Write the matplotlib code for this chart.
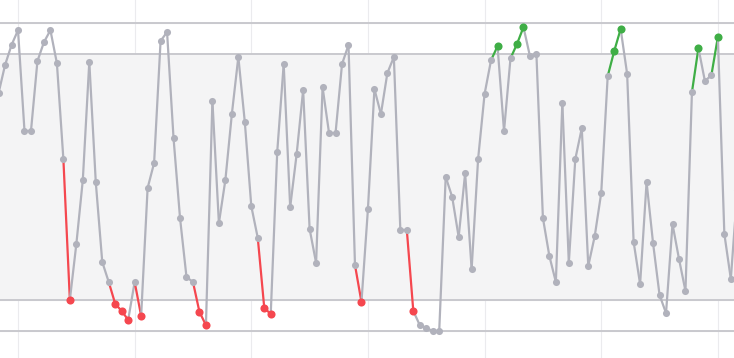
import numpy as np
import matplotlib
matplotlib.use("Agg")
import matplotlib.pyplot as plt

# readings, one per step (grid spacing = 1 unit)
values = [
    7.72, 8.63, 9.28, 9.76, 6.49, 6.49, 8.76, 9.37, 9.76, 8.69,
    5.58, 1.01, 2.82, 4.90, 8.73, 4.83, 2.24, 1.59, 0.88, 0.65,
    0.36, 1.59, 0.49, 4.64, 5.45, 9.41, 9.70, 6.26, 3.67, 1.75,
    1.59, 0.62, 0.19, 7.46, 3.50, 4.90, 7.04, 8.89, 6.78, 4.05,
    3.02, 0.75, 0.55, 5.81, 8.66, 4.02, 5.74, 7.82, 3.31, 2.21,
    7.91, 6.42, 6.42, 8.66, 9.28, 2.14, 0.94, 3.96, 7.85, 7.04,
    8.37, 8.89, 3.28, 3.28, 0.65, 0.19, 0.10, 0.00, 0.00, 5.00,
    4.35, 3.05, 5.12, 2.01, 5.58, 7.69, 8.79, 9.24, 6.49, 8.85,
    9.31, 9.86, 8.92, 8.98, 3.67, 2.43, 1.59, 7.40, 2.21, 5.58,
    6.58, 2.11, 3.08, 4.48, 8.27, 9.08, 9.80, 8.34, 2.89, 1.52,
    4.83, 2.85, 1.17, 0.58, 3.47, 2.34, 1.30, 7.75, 9.18, 8.11,
    8.30, 9.54, 3.15, 1.69, 4.57,
]
low_idx = [11, 18, 19, 20, 22, 31, 32, 41, 42, 56, 64]
high_idx = [77, 80, 81, 95, 96, 108, 111]

band_low, band_high = 1, 9
limit_low, limit_high = 0, 10

GRAY = "#b1b2bc"
RED = "#f5474f"
GREEN = "#3fae46"

x = np.arange(len(values))
y = np.array(values)
colors = [GRAY] * len(values)
for i in low_idx:
    colors[i] = RED
for i in high_idx:
    colors[i] = GREEN

fig = plt.figure(figsize=(7.34, 3.58), dpi=100)
ax = fig.add_axes([0, 0, 1, 1])
ax.set_xlim(0.22, 113.49)
ax.set_ylim(-0.876, 10.74)

# grid
for gx in range(3, 115, 18):
    ax.axvline(gx, color="#ebebee", lw=0.8, zorder=0)
for gy in range(0, 11):
    ax.axhline(gy, color="#e6e6ea", lw=0.8, zorder=0)

ax.axhspan(band_low, band_high, color="#f4f4f5", zorder=0.5, lw=0)
for h in [band_low, band_high, limit_low, limit_high]:
    ax.axhline(h, color="#c9c9ce", lw=1.4, zorder=1)

# segments coloured by the point they end at
for i in range(1, len(values)):
    ax.plot(x[i - 1:i + 1], y[i - 1:i + 1], color=colors[i], lw=1.6,
            solid_capstyle="round", zorder=2)

gray_pts = [i for i in range(len(values)) if colors[i] == GRAY]
ax.scatter(x[gray_pts], y[gray_pts], s=26, color=GRAY, zorder=3, lw=0)
ax.scatter(x[low_idx], y[low_idx], s=34, color=RED, zorder=4, lw=0)
ax.scatter(x[high_idx], y[high_idx], s=34, color=GREEN, zorder=4, lw=0)

ax.set_axis_off()
fig.savefig("out.png", dpi=100)
